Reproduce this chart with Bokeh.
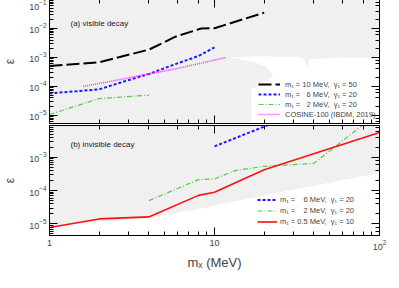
from bokeh.plotting import figure
from bokeh.layouts import column
from bokeh.models import Range1d, LogAxis, Label, LogTickFormatter
from bokeh.embed import file_html
from bokeh.resources import INLINE

FONT = "Liberation Sans"

# ---------------- data ----------------
# (a) visible decay
m_vis_10 = [1, 2, 4, 5.8, 8.3, 10, 20]
eps_vis_10 = [5.1e-4, 6.8e-4, 1.86e-3, 5.2e-3, 1.0e-2, 1.02e-2, 3.5e-2]
m_vis_6 = [1, 2, 2.75, 4, 5.8, 8, 10]
eps_vis_6 = [5.75e-5, 7.9e-5, 1.41e-4, 2.69e-4, 5.9e-4, 1.12e-3, 2.24e-3]
m_vis_2 = [1, 2, 4]
eps_vis_2 = [1.07e-5, 3.8e-5, 5.0e-5]
m_cosine = [1.6, 2.5, 4, 6, 11.8]
eps_cosine = [1.0e-4, 1.6e-4, 2.7e-4, 4.2e-4, 1.0e-3]
# allowed (white) region in panel (a)
m_white_a = [12.3, 19.2, 33.4, 34.9, 36.3, 37.9, 58, 100, 100, 16.7, 16.7, 19.2, 21.2, 22.6, 22.1, 20.1, 17.5]
eps_white_a = [1.01e-3, 1.09e-3, 1.01e-3, 8.6e-4, 4.3e-4, 8.6e-4, 9.7e-4, 1.0e-3, 1e-7, 1e-7,
               7.9e-5, 1.25e-4, 1.61e-4, 2.38e-4, 3.09e-4, 5.1e-4, 6.7e-4]

# (b) invisible decay
m_inv_6 = [10, 22]
eps_inv_6 = [2.14e-3, 1.02e-2]
m_inv_2 = [4, 8, 10, 13.3, 20, 40, 60, 85]
eps_inv_2 = [5.0e-5, 2.14e-4, 2.24e-4, 4.0e-4, 5.4e-4, 6.6e-4, 3.2e-3, 1.26e-2]
m_inv_05 = [1, 2, 4, 8, 10, 20, 100]
eps_inv_05 = [7.8e-6, 1.41e-5, 1.62e-5, 7.2e-5, 8.9e-5, 4.27e-4, 5.6e-3]
# excluded-region boundary in panel (b)
m_bound_b = [1, 2.09, 4.0, 8.35, 11.0, 33.4, 100]
eps_bound_b = [8.85e-6, 1.13e-5, 1.54e-5, 2.89e-5, 3.94e-5, 1.17e-4, 3.37e-4]

labels_a = ["m\u2081 = 10 MeV,\u00a0 \u03b3\u2081 = 50",
            "m\u2081 = \u20076 MeV,\u00a0 \u03b3\u2081 = 20",
            "m\u2081 = \u20072 MeV,\u00a0 \u03b3\u2081 = 20",
            "COSINE-100 (IBDM, 2019)"]
labels_b = ["m\u2081 = \u2007\u20086 MeV,\u00a0 \u03b3\u2081 = 20",
            "m\u2081 = \u2007\u20082 MeV,\u00a0 \u03b3\u2081 = 20",
            "m\u2081 = 0.5 MeV,\u00a0 \u03b3\u2081 = 10"]
x_title = "m\u2093 (MeV)"

GRAY = "#f0f0f0"


def style_axis(ax, show_labels):
    ax.major_tick_in = 8
    ax.major_tick_out = 0
    ax.minor_tick_in = 4
    ax.minor_tick_out = 0
    ax.axis_line_color = "black"
    ax.major_tick_line_color = "black"
    ax.minor_tick_line_color = "black"
    ax.major_label_text_font = FONT
    if show_labels:
        ax.major_label_text_font_size = "9px"
        ax.major_label_standoff = 3
    else:
        ax.major_label_text_font_size = "1px"
        ax.major_label_text_alpha = 0
        ax.major_label_standoff = 0


def make_fig(h, ymin, ymax, bt, bb):
    p = figure(width=391, height=h, x_axis_type="log", y_axis_type="log",
               x_range=Range1d(1, 100), y_range=Range1d(ymin, ymax),
               output_backend="svg", toolbar_location=None,
               min_border_left=39, min_border_right=12,
               min_border_top=bt, min_border_bottom=bb,
               background_fill_color=GRAY, border_fill_color="white",
               outline_line_color="black", outline_line_width=1)
    p.grid.visible = False
    p.add_layout(LogAxis(), "right")
    p.add_layout(LogAxis(), "above")
    left = p.left[0]
    left.axis_label = "\u03b5"
    left.axis_label_text_font = FONT
    left.axis_label_text_font_style = "normal"
    left.axis_label_text_font_size = "12px"
    left.axis_label_standoff = 9
    style_axis(left, True)
    style_axis(p.right[0], False)
    style_axis(p.above[0], False)
    return p


# ---------------- panel (a) ----------------
p1 = make_fig(125, 5.25e-6, 0.1, 0, 1)
style_axis(p1.below[0], False)
p1.patch(m_white_a, eps_white_a, fill_color="white", line_color=None)

r1 = p1.line(m_vis_10, eps_vis_10, line_color="black", line_width=2, line_dash="13 4",
             legend_label=labels_a[0])
r2 = p1.line(m_vis_6, eps_vis_6, line_color="#1a1aff", line_width=2, line_dash="3 2",
             legend_label=labels_a[1])
r3 = p1.line(m_vis_2, eps_vis_2, line_color="#55cc44", line_width=1.2, line_dash="5 2 1 2",
             legend_label=labels_a[2])
r4 = p1.line(m_cosine, eps_cosine, line_color="#ff33ff", line_width=1.6, line_dash="1 1",
             legend_label=labels_a[3])
p1.add_layout(Label(x=1.34, y=1.45e-2, text="(a) visible decay", text_font=FONT,
                    text_font_size="8px", text_baseline="middle", text_color="#222222"))

lg1 = p1.legend[0]
lg1.location = (209, 4)
lg1.label_text_font = FONT
lg1.label_text_font_size = "7.5px"
lg1.label_height = 10
lg1.glyph_height = 10
lg1.glyph_width = 22
lg1.label_standoff = 5
lg1.spacing = 0
lg1.padding = 0
lg1.margin = 0
lg1.background_fill_alpha = 0
lg1.border_line_color = None

# ---------------- panel (b) ----------------
p2 = make_fig(148, 4.47e-6, 9.1e-3, 1, 23)
bottom = p2.below[0]
style_axis(bottom, True)
bottom.formatter = LogTickFormatter(min_exponent=2)
bottom.major_label_standoff = 4
bottom.axis_label = x_title
bottom.axis_label_text_font = FONT
bottom.axis_label_text_font_style = "normal"
bottom.axis_label_text_font_size = "13px"
bottom.axis_label_standoff = 2

p2.varea(x=m_bound_b, y1=[1e-8] * len(m_bound_b), y2=eps_bound_b, fill_color="white")

s1 = p2.line(m_inv_6, eps_inv_6, line_color="#1a1aff", line_width=2, line_dash="3 2",
             legend_label=labels_b[0])
s2 = p2.line(m_inv_2, eps_inv_2, line_color="#55cc44", line_width=1.2, line_dash="5 2 1 2",
             legend_label=labels_b[1])
s3 = p2.line(m_inv_05, eps_inv_05, line_color="#ff1010", line_width=1.6,
             legend_label=labels_b[2])
p2.add_layout(Label(x=1.34, y=2.5e-3, text="(b) invisible decay", text_font=FONT,
                    text_font_size="8px", text_baseline="middle", text_color="#222222"))

lg2 = p2.legend[0]
lg2.location = (208, 8)
lg2.label_text_font = FONT
lg2.label_text_font_size = "7.5px"
lg2.label_height = 11
lg2.glyph_height = 11
lg2.glyph_width = 20
lg2.label_standoff = 3
lg2.spacing = 0
lg2.padding = 0
lg2.margin = 0
lg2.background_fill_alpha = 0
lg2.border_line_color = None

layout = column(p1, p2, margin=(-1, 0, 0, 0))

open("out.html", "w").write(file_html(layout, INLINE))
